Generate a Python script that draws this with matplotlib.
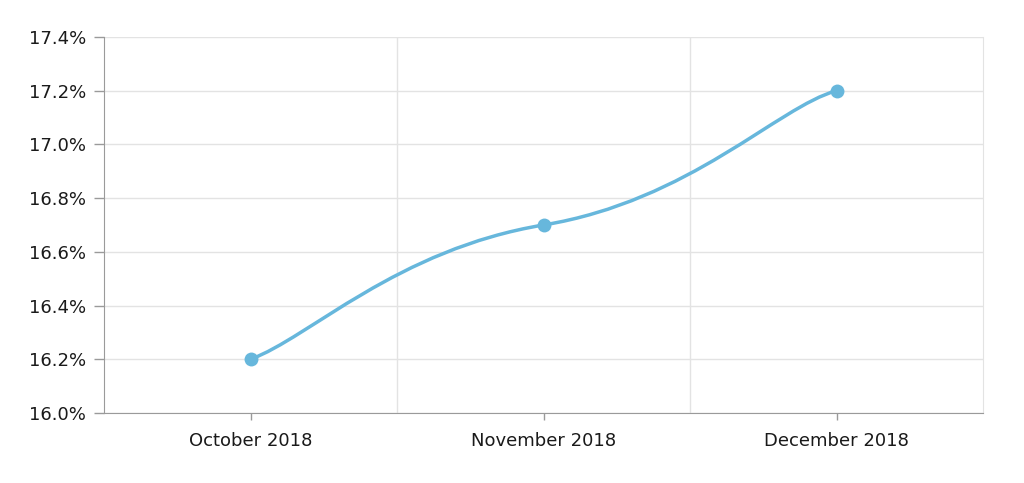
import numpy as np
import matplotlib; matplotlib.use("Agg")
import matplotlib.pyplot as plt
from matplotlib.path import Path
from matplotlib.patches import PathPatch
from matplotlib.ticker import FuncFormatter, FixedLocator

MONTHS = ["October 2018", "November 2018", "December 2018"]
RATE = [16.2, 16.7, 17.2]          # percent
YTICKS = [16.0, 16.2, 16.4, 16.6, 16.8, 17.0, 17.2, 17.4]

LINE = "#67b7dc"; GRID = "#e3e3e3"; AXC = "#9a9a9a"; TXT = "#1a1a1a"
plt.rcParams["font.family"] = ["DejaVu Sans"]

# curve shape: tangent slope at each point and bezier handle length (x units)
TAN = [0.4, 0.18, 0.3]
HANDLE_OUT = [0.2, 0.5, 0.0]
HANDLE_IN = [0.0, 0.5, 0.2]

def spline_path(x, y):
    verts = [(x[0], y[0])]; codes = [Path.MOVETO]
    for i in range(len(x) - 1):
        a = HANDLE_OUT[i]; b = HANDLE_IN[i+1]
        verts += [(x[i] + a, y[i] + TAN[i]*a),
                  (x[i+1] - b, y[i+1] - TAN[i+1]*b),
                  (x[i+1], y[i+1])]
        codes += [Path.CURVE4] * 3
    return Path(verts, codes)

fig = plt.figure(figsize=(10.24, 4.83), dpi=100)
ax = fig.add_axes([104/1024, 1-413/483, (983-104)/1024, (413-37)/483])

pos = np.arange(len(MONTHS))
ax.add_patch(PathPatch(spline_path(pos, RATE), fc="none", ec=LINE, lw=2.5,
                       capstyle="round", joinstyle="round", zorder=3))
ax.plot(pos, RATE, "o", color=LINE, ms=10, mew=0, zorder=4)

ax.set_xlim(-0.5, len(MONTHS) - 0.5)
ax.set_ylim(16.0, 17.4)
ax.set_xticks(pos); ax.set_xticklabels(MONTHS)
ax.xaxis.set_minor_locator(FixedLocator(pos[:-1] + 0.5))
ax.set_yticks(YTICKS)
ax.yaxis.set_major_formatter(FuncFormatter(lambda v, _: f"{v:.1f}%"))

ax.grid(axis="y", color=GRID, lw=1)
ax.grid(axis="x", which="minor", color=GRID, lw=1)
ax.grid(axis="x", which="major", visible=False)
ax.tick_params(axis="x", which="minor", length=0)
ax.tick_params(axis="both", which="major", colors=AXC, labelcolor=TXT, labelsize=13, width=1)
ax.tick_params(axis="y", length=7, pad=6)
ax.tick_params(axis="x", length=5, pad=9)

ax.spines["top"].set_visible(False)
ax.spines["right"].set_color(GRID)
for s in ["left", "bottom"]:
    ax.spines[s].set_color(AXC)

fig.savefig("out.png", dpi=100)
